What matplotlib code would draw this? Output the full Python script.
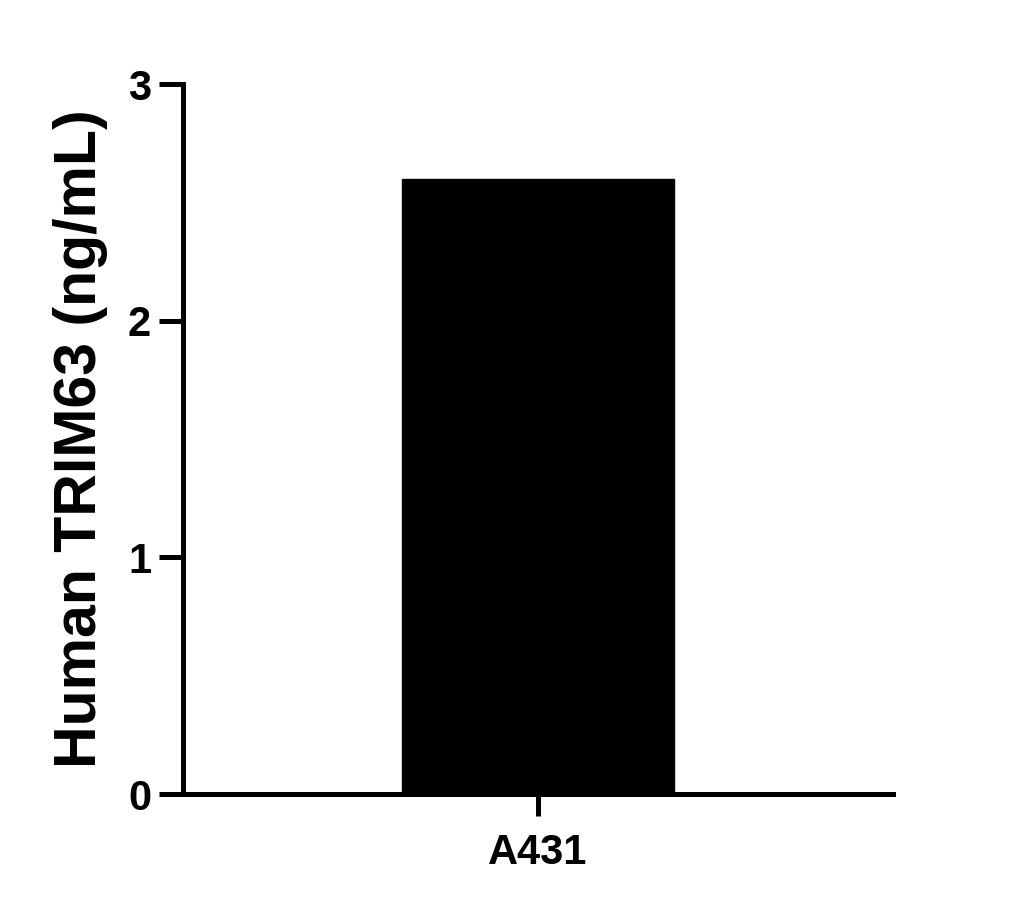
import matplotlib
matplotlib.use("Agg")
import matplotlib.pyplot as plt

categories = ["A431"]
values = [2.6]
yticks = [0, 1, 2, 3]
ylabel = "Human TRIM63 (ng/mL)"

plt.rcParams['font.family'] = ['Liberation Sans', 'DejaVu Sans']
plt.rcParams['font.weight'] = 'bold'

fig = plt.figure(figsize=(10.25, 9.1), dpi=100)
ax = fig.add_axes([183/1025, (910-794)/910, (893-183)/1025, (794-84)/910])

x = list(range(len(categories)))
ax.bar(x, values, width=0.6, color='black', edgecolor='black')
ax.set_xlim(-0.783, 0.783)
ax.set_ylim(0, 3)
ax.set_yticks(yticks)
ax.set_yticklabels([str(t) for t in yticks])
ax.set_xticks(x)
ax.set_xticklabels(categories)

for s in ['top', 'right']:
    ax.spines[s].set_visible(False)
for s in ['left', 'bottom']:
    ax.spines[s].set_linewidth(3.6)
    ax.spines[s].set_capstyle('projecting')

ax.tick_params(axis='y', length=17, width=3.6, pad=6, labelsize=30)
ax.tick_params(axis='x', length=16, width=3.6, pad=12, labelsize=30)
for lab in ax.get_xticklabels() + ax.get_yticklabels():
    lab.set_fontweight('bold')

ax.set_ylabel(ylabel, fontsize=42.5, fontweight='bold', labelpad=14)

fig.savefig("out.png", dpi=100)
